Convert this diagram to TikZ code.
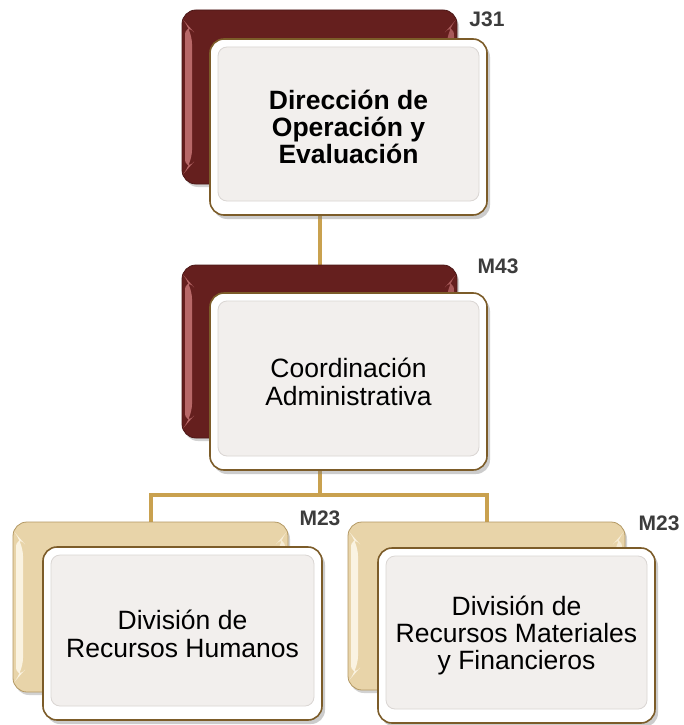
\documentclass[tikz,border=0pt]{standalone}
\usepackage{fontspec}
\setmainfont{Liberation Sans}
\usetikzlibrary{shadows,calc}
\pgfdeclarelayer{bgfill}
\pgfdeclarelayer{bg}
\pgfsetlayers{bgfill,bg,main}

\definecolor{conn}{HTML}{C9A14F}
\definecolor{wine}{HTML}{651F1E}
\definecolor{wineedge}{HTML}{4B1716}
\definecolor{winehl}{HTML}{B86868}
\definecolor{sand}{HTML}{E8D4A9}
\definecolor{sandedge}{HTML}{B39863}
\definecolor{sandhl}{HTML}{FAF3E2}
\definecolor{card}{HTML}{F2EFED}
\definecolor{cardin}{HTML}{DAD6D3}
\definecolor{cardedge}{HTML}{7C5C29}
\definecolor{lbl}{HTML}{3C3C3C}

\tikzset{
  bevelstrips/.style={path picture={
      \fill[#1] ($(path picture bounding box.north west)+(3pt,-12pt)$)
        -- ($(path picture bounding box.north west)+(10pt,-20pt)$)
        -- ($(path picture bounding box.south west)+(10pt,20pt)$)
        -- ($(path picture bounding box.south west)+(3pt,12pt)$) -- cycle;
      \fill[#1, opacity=0.8] ($(path picture bounding box.north east)+(-3pt,-12pt)$)
        -- ($(path picture bounding box.north east)+(-10pt,-20pt)$)
        -- ($(path picture bounding box.south east)+(-10pt,20pt)$)
        -- ($(path picture bounding box.south east)+(-3pt,12pt)$) -- cycle;
  }},
  backbox/.style={rounded corners=14pt, line width=0.8pt,
      drop shadow={shadow xshift=2pt, shadow yshift=-3pt, opacity=0.35}},
  backwine/.style={backbox, draw=wineedge, fill=wine, bevelstrips=winehl},
  backsand/.style={backbox, draw=sandedge, fill=sand, bevelstrips=sandhl},
  front/.style={rounded corners=14pt, draw=cardedge, line width=1.6pt, fill=white,
      minimum width=277pt, minimum height=176pt, align=center,
      drop shadow={shadow xshift=3pt, shadow yshift=-4pt, opacity=0.4},
      path picture={
        \fill[card, rounded corners=9pt]
          ($(path picture bounding box.north west)+(8pt,-8pt)$) rectangle
          ($(path picture bounding box.south east)+(-8pt,14pt)$);
        \draw[cardin, line width=0.8pt, rounded corners=9pt]
          ($(path picture bounding box.north west)+(8pt,-8pt)$) rectangle
          ($(path picture bounding box.south east)+(-8pt,14pt)$);
      }},
  topfont/.style={font=\fontsize{26.5}{27}\selectfont\bfseries},
  bodyfont/.style={font=\fontsize{26.5}{28}\selectfont},
  code/.style={font=\fontsize{21}{24}\selectfont\bfseries, text=lbl, inner sep=0pt},
  connector/.style={draw=conn, line width=4pt},
}

\begin{document}
\begin{tikzpicture}[x=1pt,y=-1pt]
\begin{pgfonlayer}{bgfill}
\fill[white] (0,0) rectangle (684,725);
\end{pgfonlayer}
\useasboundingbox (0,0) rectangle (684,725);

% top
\node[backwine, minimum width=275pt, minimum height=174pt] (tback) at (319.5,97) {};
\node[front, topfont, minimum height=176pt] (tfront) at (348.5,127) {Dirección de\\Operación y\\Evaluación};
\node[code] (j31) at (487,19) {J31};

% middle
\node[backwine, minimum width=275pt, minimum height=173pt] (mback) at (319.5,351.5) {};
\node[front, bodyfont, minimum height=177pt] (mfront) at (348.5,381.5) {Coordinación\\Administrativa};
\node[code] (m43) at (498,266) {M43};

% bottom left
\node[backsand, minimum width=275pt, minimum height=170pt] (blback) at (150.5,607) {};
\node[front, bodyfont, minimum width=279pt, minimum height=173pt] (blfront) at (182.5,633.5) {División de\\Recursos Humanos};
\node[code] (m23a) at (320,518) {M23};

% bottom right
\node[backsand, minimum width=277pt, minimum height=168pt] (brback) at (486.5,606) {};
\node[front, font=\fontsize{26.5}{27}\selectfont, minimum height=175pt] (brfront) at (516.5,635.5) {División de\\Recursos Materiales\\y Financieros};
\node[code] (m23b) at (659,523) {M23};

\coordinate (hub) at (319.5,495);

\begin{pgfonlayer}{bg}
  \draw[connector] (tback.south) -- (mback.north);
  \draw[connector] (mback.south) -- (hub) -| (blback.north);
  \draw[connector] (hub) -| (brback.north);
\end{pgfonlayer}
\end{tikzpicture}
\end{document}
